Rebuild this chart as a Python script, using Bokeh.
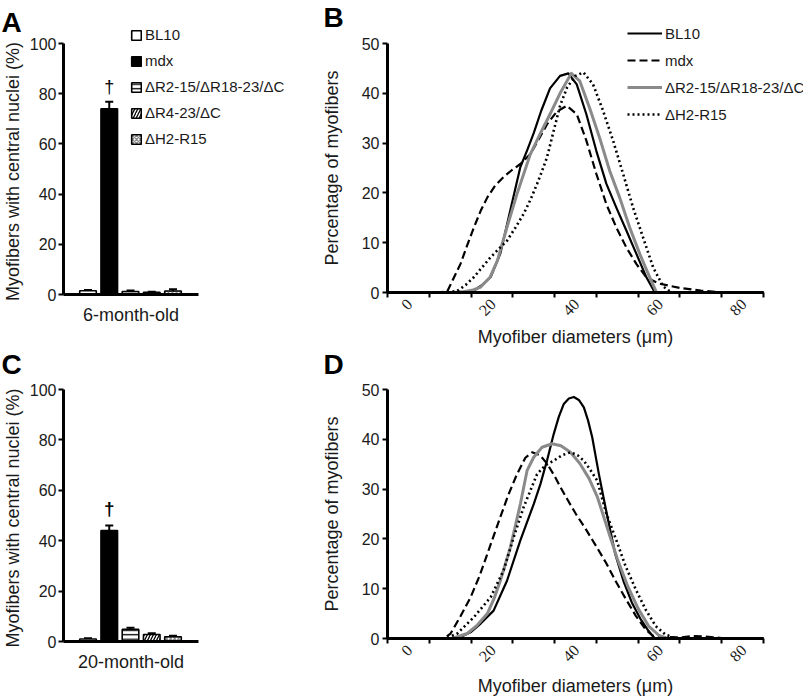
from math import pi
from bokeh.plotting import figure
from bokeh.layouts import row, column
from bokeh.models import (ColumnDataSource, Range1d, FixedTicker, Legend, LegendItem,
                          Whisker, TeeHead, Label, LabelSet)
from bokeh.embed import file_html
from bokeh.resources import INLINE

FONT = "Liberation Sans"
TXT = "#1a1a1a"

# ---------------- data ----------------
groups = ["BL10", "mdx", "ΔR2-15/ΔR18-23/ΔC", "ΔR4-23/ΔC", "ΔH2-R15"]
nuclei_6mo = [1.5, 74.0, 1.2, 0.9, 1.4]
err_6mo = [0.3, 2.8, 0.4, 0.2, 0.7]
nuclei_20mo = [1.0, 44.0, 4.8, 2.8, 1.9]
err_20mo = [0.3, 2.0, 0.7, 0.5, 0.4]
age_labels = ["6-month-old", "20-month-old"]

diam_ticks = [0, 10, 20, 30, 40, 50, 60, 70, 80, 90]
diam_label_pos = [0, 20, 40, 60, 80]
diam_labels = ["0", "20", "40", "60", "80"]
pct_ticks = [0, 10, 20, 30, 40, 50]
nuc_ticks = [0, 20, 40, 60, 80, 100]
curve_names = ["BL10", "mdx", "ΔR2-15/ΔR18-23/ΔC", "ΔH2-R15"]

# Panel B (6-month-old) distributions
b_bl10_x = [0, 15, 18, 20.7, 22.5, 24.7, 27, 29.4, 31.8, 33.4, 35, 36.8, 38.9, 41.3, 43.3, 45.3, 47.6, 50, 52.4, 54.8, 57.2, 59.6, 62, 64, 90]
b_bl10_y = [0, 0, 0.1, 0.4, 1.4, 3.1, 7.8, 16.5, 25.2, 28.5, 32, 36.5, 41, 43.5, 44, 41.8, 35.8, 28.4, 21.8, 17, 12.4, 7.7, 3, 0, 0]
b_mdx_x = [0, 12, 14.3, 17.5, 19, 20.7, 22.3, 23.9, 25.8, 27.8, 29.8, 31.8, 34.2, 36.2, 38.2, 40.5, 42.9, 45.3, 47.6, 50, 52.4, 54.8, 57.2, 59.6, 62, 65, 70, 75, 80, 90]
b_mdx_y = [0, 0, 0.2, 5.8, 9.3, 13.1, 16.4, 19.1, 21.5, 23.2, 24.6, 25.8, 27.8, 30.8, 33.8, 36.3, 37.5, 35.8, 30.5, 23.8, 17.7, 13, 9, 5.7, 3, 1.8, 0.9, 0.4, 0, 0]
b_r2_x = [0, 16, 18.5, 20.5, 22.3, 24.5, 26.3, 28.6, 31, 34.2, 36.5, 38.9, 41.3, 44, 46, 48.4, 50.8, 53.2, 55.6, 58, 60.4, 62.8, 64.4, 90]
b_r2_y = [0, 0, 0.2, 0.5, 1.1, 3, 6.4, 13.1, 19.8, 27.8, 31.8, 35.8, 40, 44, 42.5, 37, 31, 24.4, 19, 13, 7.7, 3, 0, 0]
b_h2_x = [0, 14, 16.7, 18.7, 20.7, 22.7, 24.7, 26.7, 28.6, 30.6, 32.6, 34.2, 35.8, 37, 38.2, 39.7, 41.3, 43, 45, 46.9, 49.2, 51.6, 54, 56.4, 58.8, 61.2, 63.6, 66, 68, 90]
b_h2_y = [0, 0, 0.3, 1.5, 3.1, 5.1, 7.1, 8.8, 10.4, 13, 15.8, 18.6, 21.8, 24.4, 27.2, 32.2, 37.5, 41.2, 43.5, 44.2, 41.8, 36.5, 30.5, 23.8, 17, 11, 5, 1.2, 0, 0]

# Panel D (20-month-old) distributions
d_bl10_x = [0, 14, 17.5, 20, 22.3, 25.4, 28.6, 31.8, 35, 36.6, 38.2, 39.8, 41, 42.2, 43.4, 44.6, 45.8, 47, 48, 49, 50.6, 52.5, 54.5, 56.5, 58.5, 60.5, 62.5, 64, 90]
d_bl10_y = [0, 0, 0.3, 1.3, 3, 5.6, 11.6, 19.7, 27, 31, 35.8, 41.1, 44.5, 47.1, 48.2, 48.5, 47.9, 46.4, 43.8, 40.4, 33, 25, 17, 11.5, 7.2, 4, 1.5, 0, 0]
d_mdx_x = [0, 13.5, 15.1, 17.5, 19.9, 22, 23.9, 25.5, 27, 29, 31, 33, 34.6, 36.5, 38.2, 40, 41.4, 43, 45.1, 47.5, 49.9, 52.3, 54.7, 57, 59.4, 61.8, 63.4, 66, 70, 73, 76, 80, 90]
d_mdx_y = [0, 0, 1, 4.5, 8.3, 12.5, 17, 20.8, 24.4, 29, 33, 36.3, 37.4, 36.8, 35.1, 32.6, 30.4, 28, 25, 21.9, 18.6, 15.2, 11.4, 8, 4.6, 1.8, 0.6, 0.3, 0.2, 0.5, 0.4, 0.1, 0]
d_r2_x = [0, 15.5, 19.1, 21.5, 23.9, 25.5, 27, 28.2, 29.4, 30.6, 31.8, 33.4, 35, 37, 39.4, 41.5, 43.8, 46, 48.2, 50.2, 52.5, 55, 57.5, 60, 62.5, 65, 67, 90]
d_r2_y = [0, 0, 1, 2.7, 5, 8, 11.6, 14.9, 18.3, 22.6, 27, 33.7, 36.4, 38.4, 39.1, 38.7, 37.4, 35.2, 32.2, 28.5, 22.5, 16, 10.5, 6, 2.5, 0.6, 0, 0]
d_h2_x = [0, 14, 16.7, 20.7, 24.7, 27.8, 30.2, 32.6, 35.8, 37.8, 39.8, 41.8, 43.8, 45.5, 47, 48.6, 50.2, 52.3, 54.7, 57, 59.4, 61.8, 64.2, 66.5, 69, 90]
d_h2_y = [0, 0, 1, 4.3, 8.3, 13.7, 20.3, 26.4, 33, 34.8, 35.7, 36.8, 37.4, 36.8, 35.7, 33.8, 31.7, 25.3, 19.9, 14.5, 9.9, 5.8, 2.5, 0.8, 0, 0]


# ---------------- helpers ----------------
def make_fig(W, H, px0, py0, x0val, sx, sy):
    """Frame covers the whole figure; axes are pinned at the data origin (fixed_location)."""
    xs = x0val - px0 / sx
    ye = py0 / sy
    p = figure(width=W, height=H, output_backend="svg", toolbar_location=None,
               x_range=Range1d(xs, xs + W / sx), y_range=Range1d(ye - H / sy, ye),
               min_border=0, min_border_left=0, min_border_right=0,
               min_border_top=0, min_border_bottom=0)
    p.xgrid.visible = False
    p.ygrid.visible = False
    p.outline_line_color = None
    p.background_fill_color = "white"
    p.border_fill_color = "white"
    for ax in (p.xaxis[0], p.yaxis[0]):
        ax.axis_line_width = 3
        ax.axis_line_color = "black"
        ax.major_tick_line_width = 2
        ax.major_tick_line_color = "black"
        ax.major_tick_in = 0
        ax.major_tick_out = 5
        ax.minor_tick_line_color = None
        ax.major_label_text_font = FONT
        ax.major_label_text_font_size = "16px"
        ax.major_label_text_color = TXT
        ax.axis_label_text_font = FONT
        ax.axis_label_text_font_size = "18px"
        ax.axis_label_text_font_style = "normal"
        ax.axis_label_text_color = TXT
    p.xaxis[0].fixed_location = 0
    p.yaxis[0].fixed_location = x0val
    return p


def panel_letter(p, letter, H, top):
    p.add_layout(Label(x=1, y=H - top, x_units="screen", y_units="screen", text=letter,
                       text_font=FONT, text_font_size="28px", text_font_style="bold",
                       text_color="black", text_baseline="top", text_align="left"))


def bar_panel(vals, errs, letter, xlabel, H, py0, sy, with_legend, dagger_bold, letter_top):
    W = 322
    p = make_fig(W, H, 63, py0, -0.153, 21.25, sy)
    p.xaxis.bounds = (-0.153, 6.2)
    p.yaxis.bounds = (0, 100)
    src = ColumnDataSource(dict(
        x=[1, 2, 3, 4, 5],
        top=vals,
        upper=[v + e for v, e in zip(vals, errs)],
        fill=["white", "black", "white", "white", "white"],
        hatch=[" ", " ", "-", "/", "x"],
        hcolor=["black", "black", "black", "black", "#8c8c8c"],
        hscale=[4, 4, 4.5, 6, 4],
        group=groups,
    ))
    r = p.vbar(x="x", top="top", bottom=0, width=0.78, source=src, fill_color="fill",
               line_color="black", line_width=1.6, hatch_pattern="hatch",
               hatch_color="hcolor", hatch_scale="hscale", hatch_weight=1.3)
    p.add_layout(Whisker(source=src, base="x", lower="top", upper="upper",
                         line_color="black", line_width=2,
                         upper_head=TeeHead(size=8, line_width=2, line_color="black"),
                         lower_head=None))
    p.yaxis.ticker = FixedTicker(ticks=nuc_ticks)
    p.yaxis.major_label_standoff = 2
    p.yaxis.axis_label = "Myofibers  with central nuclei (%)"
    p.yaxis.axis_label_standoff = 4
    p.xaxis.ticker = FixedTicker(ticks=[])
    p.xaxis.axis_label = xlabel
    p.xaxis.axis_label_standoff = 10
    p.add_layout(Label(x=2, y=vals[1] + errs[1], y_offset=7 if dagger_bold else 5, text="†",
                       text_font=FONT, text_font_size="19px" if dagger_bold else "18px",
                       text_font_style="bold" if dagger_bold else "normal",
                       text_color="black", text_align="center", text_baseline="bottom"))
    if with_legend:
        items = [LegendItem(label=g, renderers=[r], index=i) for i, g in enumerate(groups)]
        leg = Legend(items=items, location=(130, 201), glyph_width=12, glyph_height=12,
                     label_height=16, spacing=9, padding=0, margin=0, label_standoff=3,
                     border_line_color=None, background_fill_alpha=0,
                     label_text_font=FONT, label_text_font_size="15px", label_text_color=TXT)
        p.add_layout(leg)
    panel_letter(p, letter, H, letter_top)
    return p


def curve_panel(series, letter, H, py0, with_legend, xlab_standoff, letter_top):
    W = 481
    p = make_fig(W, H, 65, py0, 0, 376 / 90, 4.98)
    p.xaxis.bounds = (0, 90)
    p.yaxis.bounds = (0, 50)
    styles = [
        dict(line_color="black", line_width=2.2),
        dict(line_color="black", line_width=2.2, line_dash="8 4"),
        dict(line_color="#8a8a8a", line_width=3),
        dict(line_color="black", line_width=2.6, line_dash="2 3"),
    ]
    rs = []
    for (xs, ys), st in zip(series, styles):
        rs.append(p.line(xs, ys, line_join="round", **st))
    p.yaxis.ticker = FixedTicker(ticks=pct_ticks)
    p.yaxis.major_label_standoff = 3
    p.yaxis.axis_label = "Percentage of myofibers"
    p.yaxis.axis_label_standoff = 17
    p.xaxis.ticker = FixedTicker(ticks=diam_ticks)
    p.xaxis.major_label_overrides = {t: "" for t in diam_ticks}
    p.xaxis.major_label_standoff = 0
    p.xaxis.axis_label = "Myofiber diameters (μm)"
    p.xaxis.axis_label_standoff = xlab_standoff
    lsrc = ColumnDataSource(dict(x=diam_label_pos, y=[0] * len(diam_label_pos), text=diam_labels))
    p.add_layout(LabelSet(x="x", y="y", text="text", source=lsrc, angle=pi / 4,
                          x_offset=22, y_offset=-9, text_align="right", text_baseline="middle",
                          text_font=FONT, text_font_size="16px", text_color=TXT))
    if with_legend:
        items = [LegendItem(label=n, renderers=[r]) for n, r in zip(curve_names, rs)]
        leg = Legend(items=items, location=(305, 224), glyph_width=35, glyph_height=20,
                     label_height=20, spacing=7, padding=0, margin=0, label_standoff=3,
                     border_line_color=None, background_fill_alpha=0,
                     label_text_font=FONT, label_text_font_size="15px", label_text_color=TXT)
        p.add_layout(leg)
    panel_letter(p, letter, H, letter_top)
    return p


pa = bar_panel(nuclei_6mo, err_6mo, "A", age_labels[0], 348, 294, 2.51, True, False, 6)
pc = bar_panel(nuclei_20mo, err_20mo, "C", age_labels[1], 349, 293, 2.52, False, True, 0)
pb = curve_panel([(b_bl10_x, b_bl10_y), (b_mdx_x, b_mdx_y), (b_r2_x, b_r2_y), (b_h2_x, b_h2_y)],
                 "B", 348, 292, True, 29, 1)
pd = curve_panel([(d_bl10_x, d_bl10_y), (d_mdx_x, d_mdx_y), (d_r2_x, d_r2_y), (d_h2_x, d_h2_y)],
                 "D", 349, 290, False, 32, 0)

layout = row(column(pa, pc), column(pb, pd))
open("out.html", "w").write(file_html(layout, INLINE))
